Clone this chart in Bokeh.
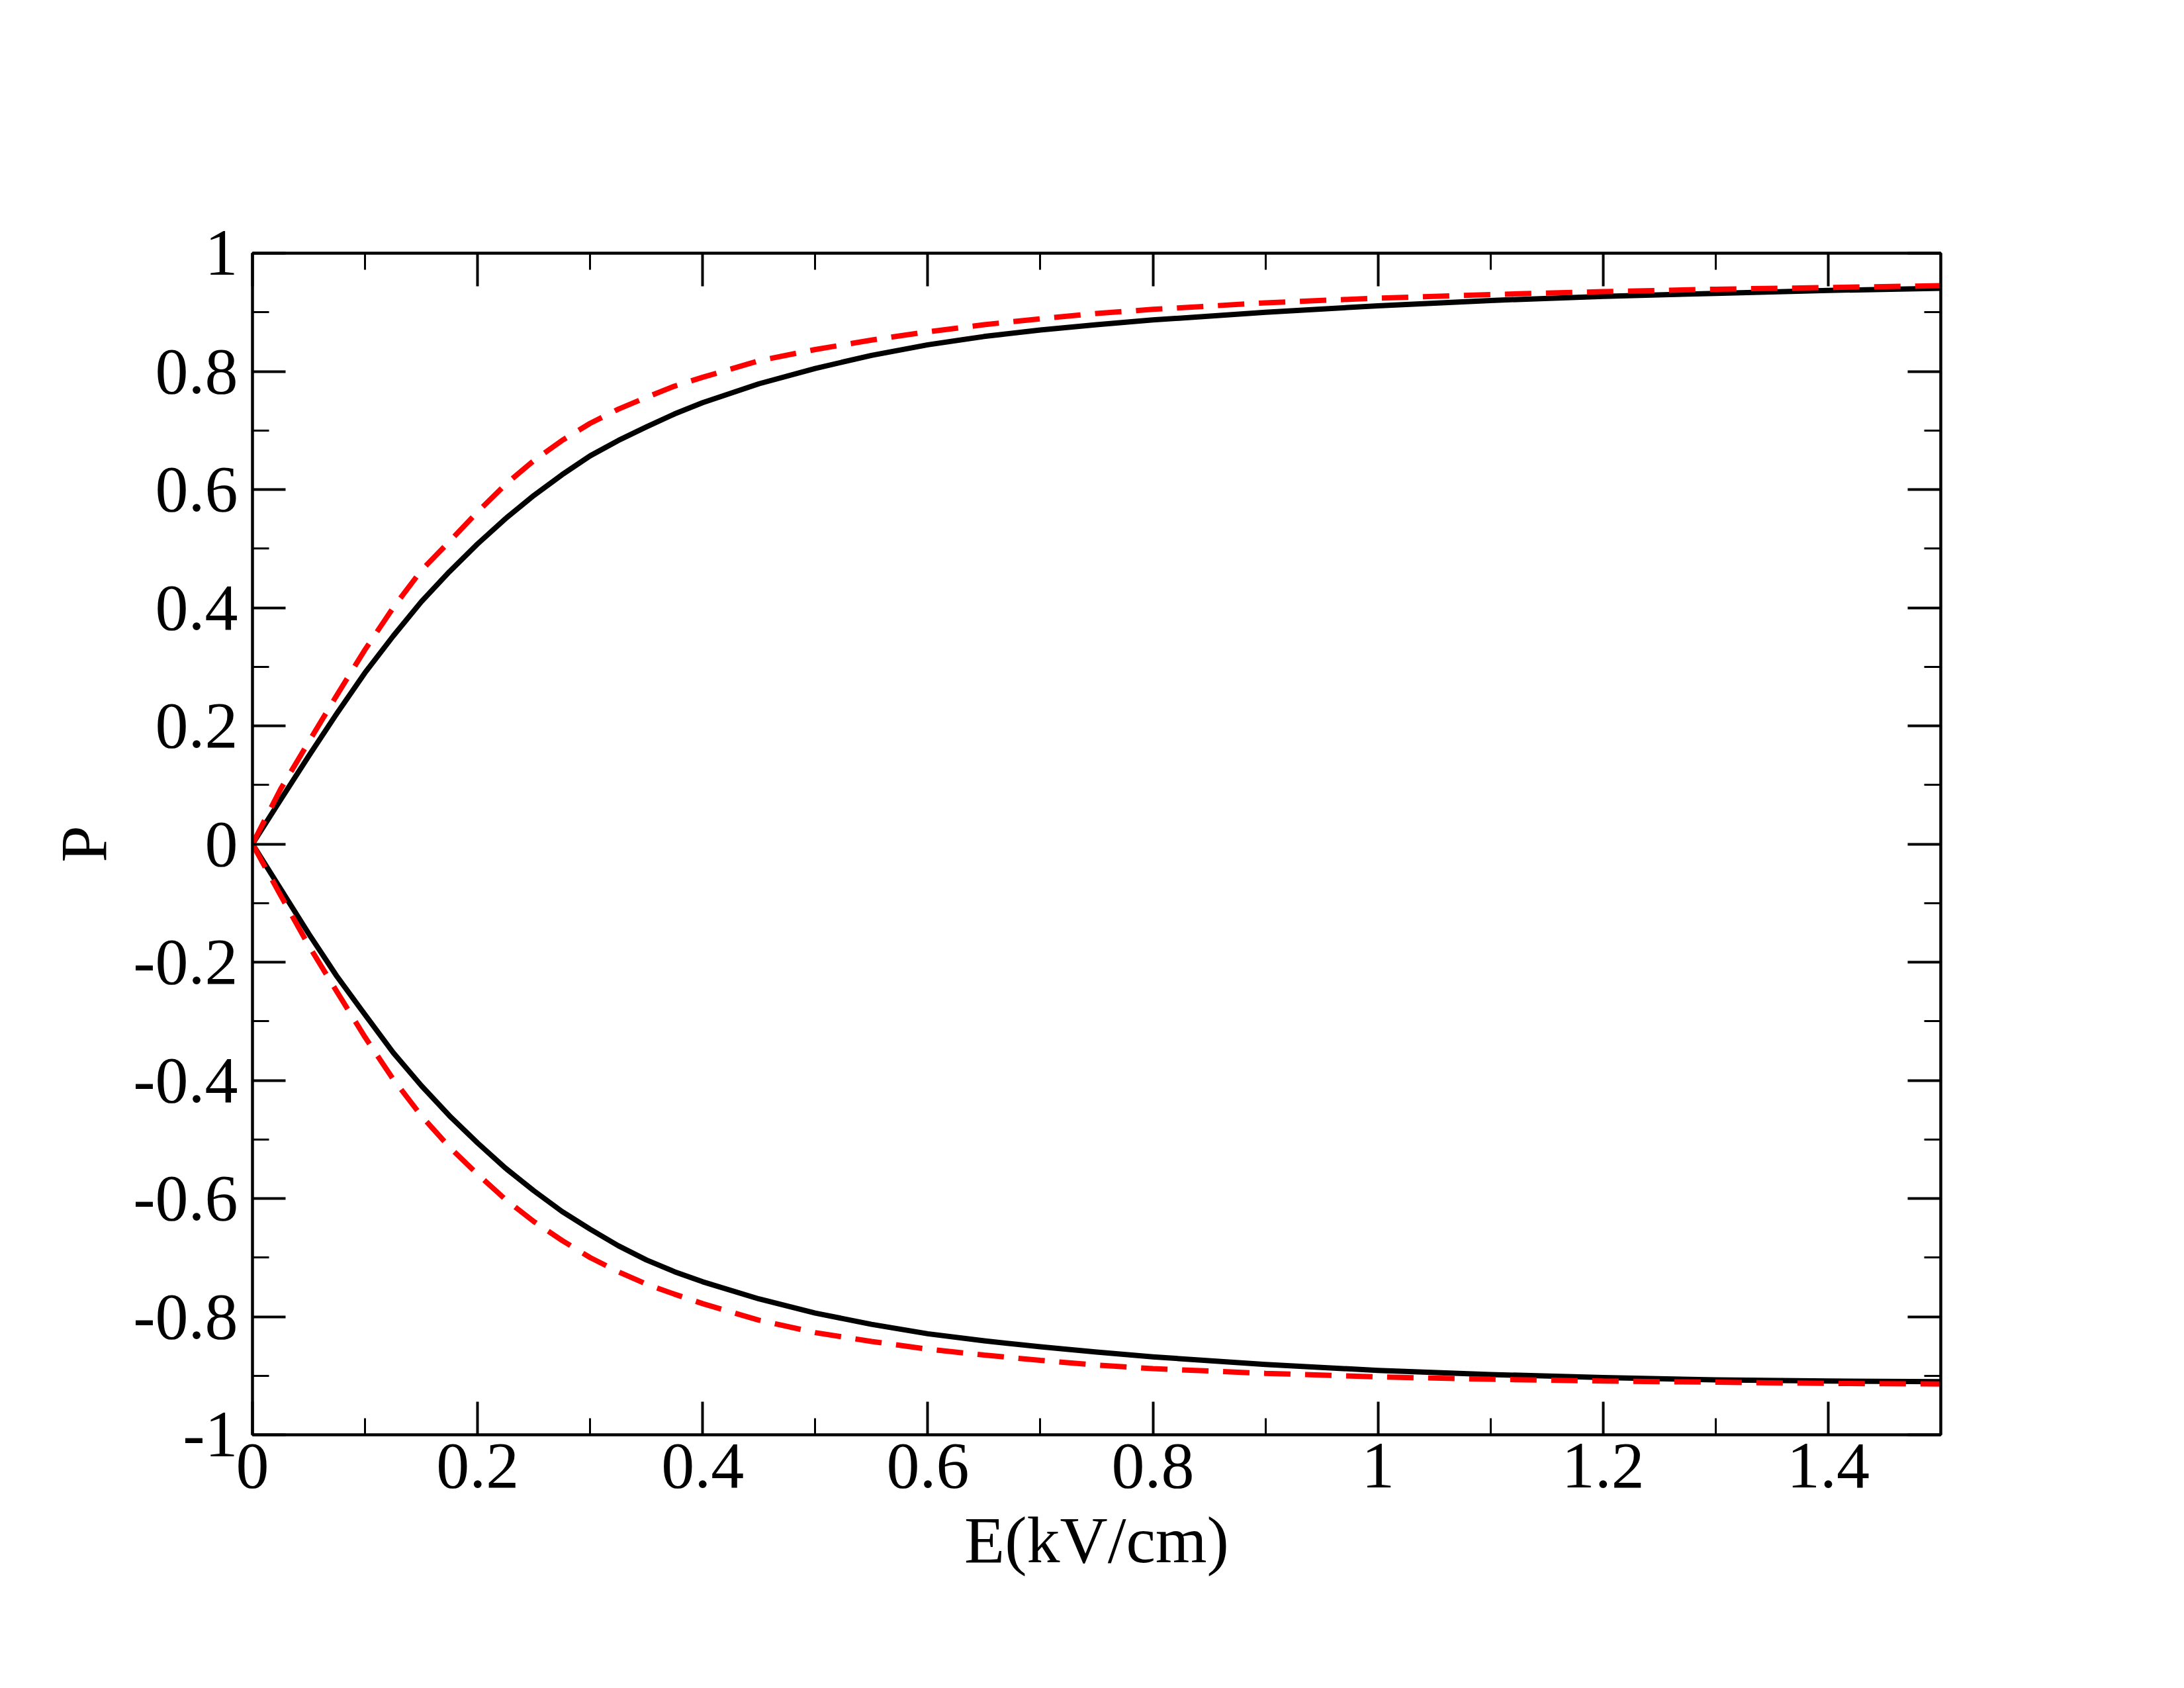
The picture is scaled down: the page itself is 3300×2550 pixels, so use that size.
from bokeh.plotting import figure
from bokeh.models import FixedTicker, LinearAxis, Range1d, ColumnDataSource
from bokeh.embed import file_html
from bokeh.resources import INLINE

# ---- data ----
E = [0, 0.025, 0.05, 0.075, 0.1, 0.125, 0.15, 0.175, 0.2, 0.225, 0.25, 0.275,
     0.3, 0.325, 0.35, 0.375, 0.4, 0.45, 0.5, 0.55, 0.6, 0.65, 0.7, 0.75, 0.8,
     0.9, 1.0, 1.1, 1.2, 1.3, 1.4, 1.5]

black_upper = [0, 0.075, 0.149, 0.221, 0.290, 0.352, 0.410, 0.461, 0.508, 0.551,
               0.590, 0.625, 0.657, 0.683, 0.706, 0.728, 0.747, 0.779, 0.805,
               0.827, 0.845, 0.859, 0.870, 0.879, 0.887, 0.900, 0.911, 0.920,
               0.927, 0.932, 0.937, 0.9405]
red_upper = [0, 0.093, 0.173, 0.252, 0.329, 0.400, 0.463, 0.512, 0.562, 0.609,
             0.649, 0.683, 0.712, 0.736, 0.756, 0.775, 0.790, 0.818, 0.837,
             0.853, 0.867, 0.879, 0.889, 0.898, 0.905, 0.916, 0.924, 0.930,
             0.935, 0.939, 0.942, 0.945]
black_lower = [0, -0.076, -0.152, -0.224, -0.289, -0.353, -0.409, -0.460, -0.506,
               -0.549, -0.587, -0.622, -0.652, -0.680, -0.704, -0.724, -0.741,
               -0.770, -0.794, -0.813, -0.829, -0.841, -0.851, -0.860, -0.868,
               -0.881, -0.891, -0.898, -0.903, -0.907, -0.909, -0.910]
red_lower = [0, -0.087, -0.172, -0.250, -0.327, -0.398, -0.460, -0.513, -0.559,
             -0.602, -0.639, -0.671, -0.700, -0.724, -0.745, -0.762, -0.778,
             -0.806, -0.827, -0.842, -0.855, -0.865, -0.874, -0.882, -0.888,
             -0.896, -0.902, -0.906, -0.909, -0.911, -0.913, -0.914]

x_ticks = [0, 0.2, 0.4, 0.6, 0.8, 1.0, 1.2, 1.4]
x_tick_labels = ["0", "0.2", "0.4", "0.6", "0.8", "1", "1.2", "1.4"]
x_minor = [0.1, 0.3, 0.5, 0.7, 0.9, 1.1, 1.3, 1.5]
y_ticks = [-1.0, -0.8, -0.6, -0.4, -0.2, 0, 0.2, 0.4, 0.6, 0.8, 1.0]
y_tick_labels = ["-1", "-0.8", "-0.6", "-0.4", "-0.2", "0", "0.2", "0.4", "0.6", "0.8", "1"]
y_minor = [-0.9, -0.7, -0.5, -0.3, -0.1, 0.1, 0.3, 0.5, 0.7, 0.9]

FONT = "Liberation Serif"
FS = "100px"

p = figure(frame_width=2551, frame_height=1785,
           min_border_left=381, min_border_right=352,
           min_border_top=382, min_border_bottom=367,
           x_range=Range1d(0, 1.5), y_range=Range1d(-1, 1),
           output_backend="svg", toolbar_location=None,
           x_axis_label="E(kV/cm)", y_axis_label="P")
p.grid.visible = False
p.outline_line_color = "black"
p.outline_line_width = 4
p.background_fill_color = "white"
p.border_fill_color = "white"

src = ColumnDataSource(dict(E=E, bu=black_upper, ru=red_upper, bl=black_lower, rl=red_lower))
p.line("E", "bu", source=src, line_color="black", line_width=8, line_join="round")
p.line("E", "bl", source=src, line_color="black", line_width=8, line_join="round")
p.line("E", "ru", source=src, line_color="#ff0000", line_width=8, line_dash="40 22")
p.line("E", "rl", source=src, line_color="#ff0000", line_width=8, line_dash="40 22")


def style(ax, ticks, minor, labels=None, standoff=10):
    ax.ticker = FixedTicker(ticks=ticks, minor_ticks=minor)
    ax.axis_line_width = 4
    ax.axis_line_color = "black"
    ax.major_tick_in = 50
    ax.major_tick_out = 0
    ax.minor_tick_in = 25
    ax.minor_tick_out = 0
    ax.major_tick_line_width = 4
    ax.minor_tick_line_width = 3
    ax.major_tick_line_color = "black"
    ax.minor_tick_line_color = "black"
    ax.major_label_text_font = FONT
    ax.major_label_text_font_size = FS
    ax.major_label_text_color = "black"
    ax.major_label_standoff = standoff
    if labels is not None:
        ax.major_label_overrides = {t: l for t, l in zip(ticks, labels)}
    else:
        ax.major_label_text_color = None
        ax.major_label_text_font_size = "1px"


xa = p.xaxis[0]
ya = p.yaxis[0]
style(xa, x_ticks, x_minor, x_tick_labels, standoff=14)
style(ya, y_ticks, y_minor, y_tick_labels, standoff=22)
for ax in (xa, ya):
    ax.axis_label_text_font = FONT
    ax.axis_label_text_font_size = FS
    ax.axis_label_text_font_style = "normal"
    ax.axis_label_text_color = "black"
xa.axis_label_standoff = 21
ya.axis_label_standoff = 16

top = LinearAxis()
right = LinearAxis()
style(top, x_ticks, x_minor)
style(right, y_ticks, y_minor)
p.add_layout(top, "above")
p.add_layout(right, "right")

open("out.html", "w").write(file_html(p, INLINE))
